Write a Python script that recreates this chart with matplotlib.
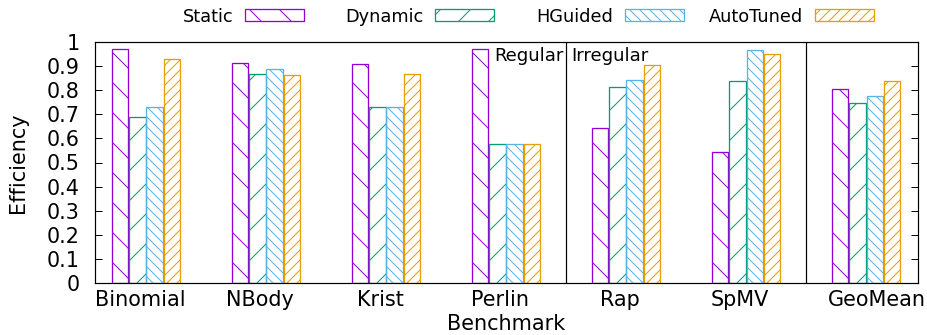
import numpy as np
import matplotlib
matplotlib.use('Agg')
import matplotlib.pyplot as plt
from matplotlib.patches import Rectangle

# dpi chosen so the hatch spacing comes out like the gnuplot patterns;
# all sizes below are given in output pixels and converted with px()
DPI = 90
W, H = 927, 335

def px(v):
    return v * 72.0 / DPI

benchmarks = ['Binomial', 'NBody', 'Krist', 'Perlin', 'Rap', 'SpMV', 'GeoMean']
static = [0.972, 0.913, 0.910, 0.972, 0.644, 0.542, 0.806]
dynamic = [0.690, 0.869, 0.730, 0.577, 0.815, 0.838, 0.746]
hguided = [0.732, 0.889, 0.730, 0.575, 0.842, 0.967, 0.777]
autotuned = [0.929, 0.864, 0.867, 0.575, 0.905, 0.950, 0.837]
series_names = ['Static', 'Dynamic', 'HGuided', 'AutoTuned']
yticks = [0, 0.1, 0.2, 0.3, 0.4, 0.5, 0.6, 0.7, 0.8, 0.9, 1.0]
ytick_labels = ['0', '0.1', '0.2', '0.3', '0.4', '0.5', '0.6', '0.7', '0.8', '0.9', '1']

colors = ['#9400D3', '#009E73', '#56B4E9', '#E69F00']
hatches = ['\\', '/', '\\\\\\', '///']

plt.rcParams['hatch.linewidth'] = px(1.0)
plt.rcParams['font.family'] = 'DejaVu Sans'

fig = plt.figure(figsize=(W / DPI, H / DPI), dpi=DPI)
ax = fig.add_axes([95 / W, 52 / H, 823 / W, 241 / H])

x = np.arange(len(benchmarks))
slot = 1.0 / 7
width = 0.135
for j, vals in enumerate([static, dynamic, hguided, autotuned]):
    ax.bar(x + (j - 1.5) * slot, vals, width, facecolor='none',
           edgecolor=colors[j], hatch=hatches[j], linewidth=px(1.3))

# regular / irregular separators
ax.axvline(3.5, color='black', lw=px(1.2))
ax.axvline(5.5, color='black', lw=px(1.2))
ax.annotate('Regular', (3.5, 0.921), xytext=(px(-2.5), 0), textcoords='offset points',
            ha='right', va='baseline', fontsize=px(18.2))
ax.annotate('Irregular', (3.5, 0.921), xytext=(px(5), 0), textcoords='offset points',
            ha='left', va='baseline', fontsize=px(18.2))

ax.set_xlim(-0.425, 6.433)
ax.set_ylim(0, 1)
lab_off = np.full(len(benchmarks), -0.05)
lab_off[-1] = 0.09
ax.set_xticks(x + lab_off)
ax.set_xticklabels(benchmarks)
ax.set_yticks(yticks)
ax.set_yticklabels(ytick_labels)
ax.tick_params(axis='y', direction='in', length=px(7), width=px(1), left=True, right=True,
               pad=px(15), labelsize=px(20.8))
ax.tick_params(axis='x', length=0, pad=px(6.5), labelsize=px(20.8))
for s in ax.spines.values():
    s.set_linewidth(px(1.2))
ax.set_ylabel('Efficiency', fontsize=px(20.8), labelpad=px(19))
ax.set_xlabel('Benchmark', fontsize=px(20.8), labelpad=px(4))

# gnuplot style key: fixed-width columns, text right aligned before the sample
for j, name in enumerate(series_names):
    xr = 233 + 190 * j
    fig.text(xr / W, 1 - 21.7 / H, name, ha='right', va='baseline', fontsize=px(17.7))
    fig.add_artist(Rectangle(((xr + 12) / W, 1 - 20.5 / H), 59 / W, 11 / H,
                             transform=fig.transFigure, facecolor='none',
                             edgecolor=colors[j], hatch=hatches[j], lw=px(1.3)))

fig.savefig('out.png', dpi=DPI)
